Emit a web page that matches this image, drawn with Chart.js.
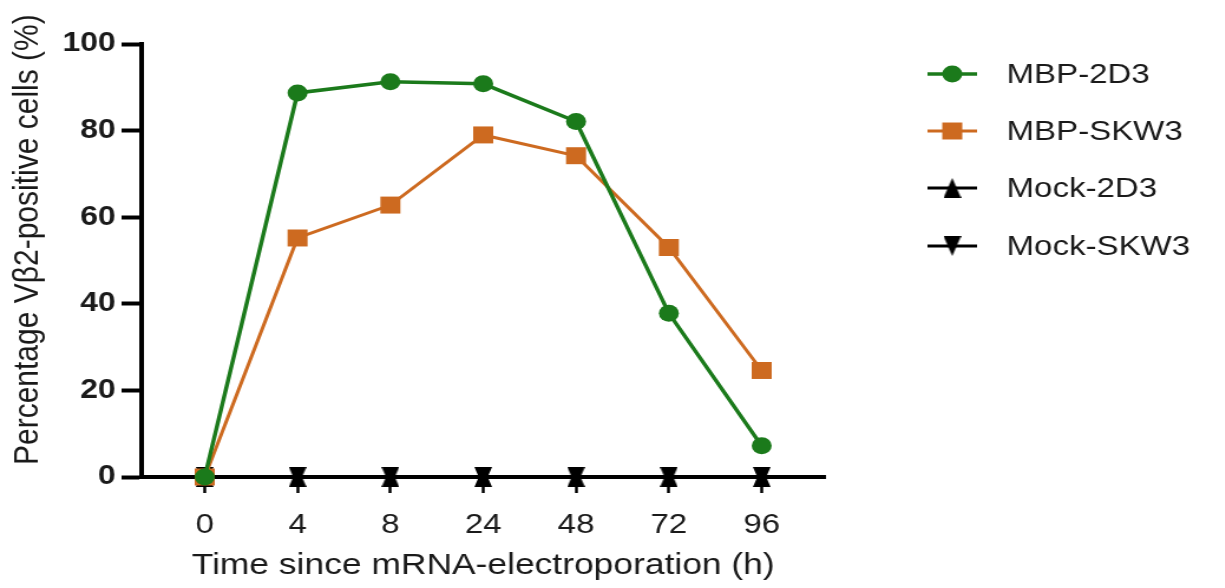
<!DOCTYPE html>
<html>
<head>
<meta charset="utf-8">
<script src="https://cdn.jsdelivr.net/npm/chart.js@4/dist/chart.umd.min.js"></script>
<style>
html, body { margin: 0; padding: 0; background: #fff; overflow: hidden; width: 1225px; height: 588px; }
/* the reference figure is stretched sideways, so the canvas is too */
#chart { position: absolute; left: 0; top: 0; transform: scaleX(1.18); transform-origin: 0 0; }
</style>
</head>
<body>
<canvas id="chart" width="1038" height="588"></canvas>
<script>
const categories = ['0', '4', '8', '24', '48', '72', '96']
const seriesNames = ['MBP-2D3', 'MBP-SKW3', 'Mock-2D3', 'Mock-SKW3']
const mbp2d3 = [0, 88.7, 91.3, 90.8, 82.1, 37.8, 7.2]
const mbpSkw3 = [0, 55.2, 62.8, 79.0, 74.2, 53.0, 24.6]
const mock2d3 = [0, 0, 0, 0, 0, 0, 0]
const mockSkw3 = [0, 0, 0, 0, 0, 0, 0]
const yTickValues = [0, 20, 40, 60, 80, 100]

const GREEN = '#1b7a1b'
const ORANGE = '#cd6a20'
const FONT = '"Liberation Sans", Arial, sans-serif'

// triangles centred on their bounding box, so up + down overlap as an hourglass
function triangle(up) {
    const c = document.createElement('canvas')
    c.width = 15
    c.height = 20
    const g = c.getContext('2d')
    g.fillStyle = '#000'
    g.beginPath()
    if (up) {
        g.moveTo(7.5, 0); g.lineTo(15, 20); g.lineTo(0, 20)
    } else {
        g.moveTo(0, 0); g.lineTo(15, 0); g.lineTo(7.5, 20)
    }
    g.closePath()
    g.fill()
    return c
}
const triUp = triangle(true)
const triDown = triangle(false)

function points(values) {
    return values.map((v, i) => ({ x: i, y: v }))
}

function drawMarker(ctx, ds, x, y) {
    const style = ds.pointStyle
    ctx.fillStyle = ds.pointBackgroundColor
    if (style instanceof HTMLCanvasElement) {
        ctx.drawImage(style, x - style.width / 2, y - style.height / 2)
    } else if (style === 'rect') {
        const s = ds.pointRadius * Math.SQRT1_2
        ctx.fillRect(x - s, y - s, 2 * s, 2 * s)
    } else {
        ctx.beginPath()
        ctx.arc(x, y, ds.pointRadius, 0, Math.PI * 2)
        ctx.fill()
    }
}

const sideLegend = {
    id: 'sideLegend',
    afterDraw(chart) {
        const ctx = chart.ctx
        const rows = [74, 131, 188, 246]
        chart.data.datasets.forEach((ds, i) => {
            const y = rows[i]
            ctx.save()
            ctx.strokeStyle = ds.borderColor
            ctx.lineWidth = ds.borderWidth
            ctx.beginPath()
            ctx.moveTo(786, y)
            ctx.lineTo(828, y)
            ctx.stroke()
            drawMarker(ctx, ds, 807, y)
            ctx.fillStyle = '#1a1a1a'
            ctx.font = '28px ' + FONT
            ctx.textBaseline = 'middle'
            ctx.fillText(ds.label, 853, y + 1)
            ctx.restore()
        })
    }
}

const ctx = document.getElementById('chart').getContext('2d')
const chart = new Chart(ctx, {
    type: 'line',
    data: {
        datasets: [
            {
                label: seriesNames[0],
                data: points(mbp2d3),
                borderColor: GREEN,
                backgroundColor: GREEN,
                pointBackgroundColor: GREEN,
                pointBorderWidth: 0,
                borderWidth: 3.5,
                pointStyle: 'circle',
                pointRadius: 8.5,
                clip: false
            },
            {
                label: seriesNames[1],
                data: points(mbpSkw3),
                borderColor: ORANGE,
                backgroundColor: ORANGE,
                pointBackgroundColor: ORANGE,
                pointBorderWidth: 0,
                borderWidth: 3,
                pointStyle: 'rect',
                pointRadius: 12,
                clip: false
            },
            {
                label: seriesNames[2],
                data: points(mock2d3),
                borderColor: '#000',
                backgroundColor: '#000',
                pointBackgroundColor: '#000',
                borderWidth: 3,
                pointStyle: triUp,
                pointRadius: 10,
                clip: false
            },
            {
                label: seriesNames[3],
                data: points(mockSkw3),
                borderColor: '#000',
                backgroundColor: '#000',
                pointBackgroundColor: '#000',
                borderWidth: 3,
                pointStyle: triDown,
                pointRadius: 10,
                clip: false
            }
        ]
    },
    options: {
        responsive: false,
        devicePixelRatio: 1,
        animation: false,
        layout: {
            padding: { left: 0, top: 44, right: 339, bottom: 0 }
        },
        plugins: {
            legend: { display: false },
            tooltip: { enabled: false }
        },
        scales: {
            x: {
                type: 'linear',
                min: -0.68,
                max: 6.68,
                afterBuildTicks: (scale) => {
                    scale.ticks = categories.map((c, i) => ({ value: i }))
                },
                afterFit: (scale) => { scale.height = 111 },
                border: { display: true, color: '#000', width: 4 },
                grid: {
                    drawOnChartArea: false,
                    drawTicks: true,
                    tickLength: 16,
                    tickWidth: 2.5,
                    tickColor: '#000'
                },
                ticks: {
                    color: '#1a1a1a',
                    padding: 15,
                    maxRotation: 0,
                    font: { family: FONT, size: 28 },
                    callback: (v) => categories[v]
                },
                title: {
                    display: true,
                    text: 'Time since mRNA-electroporation (h)',
                    color: '#1a1a1a',
                    font: { family: FONT, size: 30 },
                    padding: { top: 0, bottom: 4 }
                }
            },
            y: {
                min: 0,
                max: 100,
                afterBuildTicks: (scale) => {
                    scale.ticks = yTickValues.map(v => ({ value: v }))
                },
                afterFit: (scale) => { scale.width = 120 },
                border: { display: true, color: '#000', width: 4 },
                grid: {
                    drawOnChartArea: false,
                    drawTicks: true,
                    tickLength: 17,
                    tickWidth: 4,
                    tickColor: '#000'
                },
                ticks: {
                    color: '#1a1a1a',
                    padding: 5,
                    font: { family: FONT, size: 27, weight: 'bold' }
                },
                title: {
                    display: true,
                    // leading spaces lift the title a little, as in the figure
                    text: '     Percentage Vβ2-positive cells (%)',
                    color: '#1a1a1a',
                    font: { family: FONT, size: 30 },
                    padding: { top: 6, bottom: 0 }
                }
            }
        }
    },
    plugins: [sideLegend]
})
</script>
</body>
</html>
